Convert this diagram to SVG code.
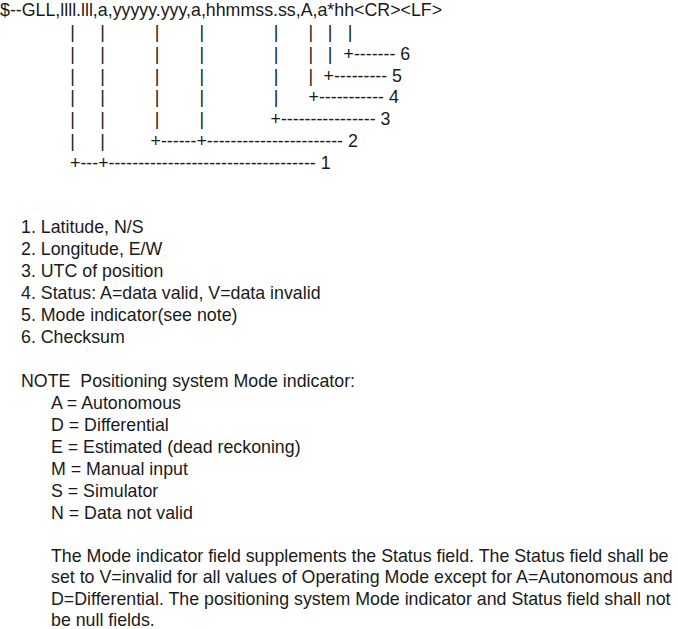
<svg xmlns="http://www.w3.org/2000/svg" width="678" height="629" viewBox="0 0 678 629">
<style>
text{font-family:"Liberation Sans",Arial,sans-serif;font-size:17.8px;fill:#1a1a1a;white-space:pre}
.p{text-anchor:middle}
</style>
<rect width="678" height="629" fill="#fff"/>
<g id="sentence">
<text x="0" y="16">$--GLL,llll.lll,a,yyyyy.yyy,a,hhmmss.ss,A,a*hh&lt;CR&gt;&lt;LF&gt;</text>
</g>
<g id="pipes">
<text class="p" x="72.5" y="38">|</text><text class="p" x="102.5" y="38">|</text><text class="p" x="157" y="38">|</text><text class="p" x="201.7" y="38">|</text><text class="p" x="276" y="38">|</text><text class="p" x="310.7" y="38">|</text><text class="p" x="330" y="38">|</text><text class="p" x="350" y="38">|</text>
<text class="p" x="72.5" y="59.8">|</text><text class="p" x="102.5" y="59.8">|</text><text class="p" x="157" y="59.8">|</text><text class="p" x="201.7" y="59.8">|</text><text class="p" x="276" y="59.8">|</text><text class="p" x="310.7" y="59.8">|</text><text class="p" x="330" y="59.8">|</text>
<text class="p" x="72.5" y="81.6">|</text><text class="p" x="102.5" y="81.6">|</text><text class="p" x="157" y="81.6">|</text><text class="p" x="201.7" y="81.6">|</text><text class="p" x="276" y="81.6">|</text><text class="p" x="310.7" y="81.6">|</text>
<text class="p" x="72.5" y="103.4">|</text><text class="p" x="102.5" y="103.4">|</text><text class="p" x="157" y="103.4">|</text><text class="p" x="201.7" y="103.4">|</text><text class="p" x="276" y="103.4">|</text>
<text class="p" x="72.5" y="125.2">|</text><text class="p" x="102.5" y="125.2">|</text><text class="p" x="157" y="125.2">|</text><text class="p" x="201.7" y="125.2">|</text>
<text class="p" x="72.5" y="147">|</text><text class="p" x="102.5" y="147">|</text>
</g>
<g id="leaders">
<text x="343.5" y="59.8">+------- 6</text>
<text x="323.5" y="81.6">+--------- 5</text>
<text x="308.5" y="103.4">+----------- 4</text>
<text x="270.5" y="125.2">+---------------- 3</text>
<text x="150.5" y="147">+------+----------------------- 2</text>
<text x="70" y="168.8">+---+----------------------------------- 1</text>
</g>
<g id="fields">
<text x="21" y="233">1. Latitude, N/S</text>
<text x="21" y="255">2. Longitude, E/W</text>
<text x="21" y="277">3. UTC of position</text>
<text x="21" y="299">4. Status: A=data valid, V=data invalid</text>
<text x="21" y="321">5. Mode indicator(see note)</text>
<text x="21" y="343">6. Checksum</text>
</g>
<g id="note">
<text x="21" y="387">NOTE  Positioning system Mode indicator:</text>
<text x="51" y="409">A = Autonomous</text>
<text x="51" y="431">D = Differential</text>
<text x="51" y="453">E = Estimated (dead reckoning)</text>
<text x="51" y="475">M = Manual input</text>
<text x="51" y="497">S = Simulator</text>
<text x="51" y="519">N = Data not valid</text>
<text x="51" y="561.5">The Mode indicator field supplements the Status field. The Status field shall be</text>
<text x="51" y="583">set to V=invalid for all values of Operating Mode except for A=Autonomous and</text>
<text x="51" y="604.5">D=Differential. The positioning system Mode indicator and Status field shall not</text>
<text x="51" y="625.5">be null fields.</text>
</g>
</svg>
